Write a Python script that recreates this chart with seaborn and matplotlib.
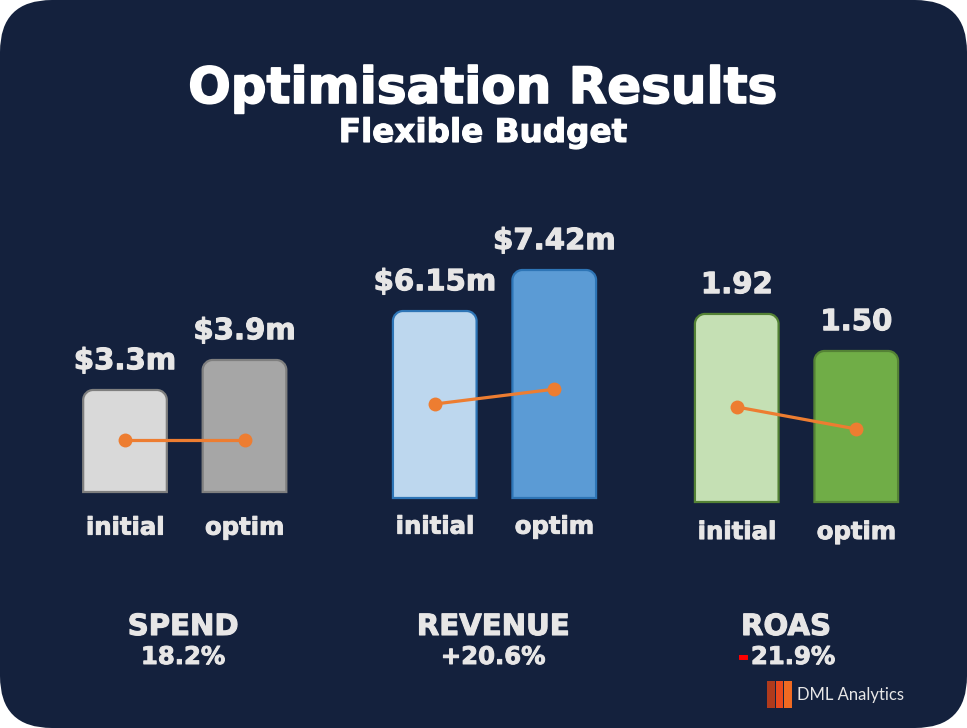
import matplotlib
matplotlib.use("Agg")
import matplotlib.pyplot as plt
import matplotlib.patheffects as pe
import seaborn as sns
from matplotlib.patches import FancyBboxPatch, PathPatch, Rectangle
from matplotlib.path import Path

# data
groups = ["SPEND", "REVENUE", "ROAS"]
stages = ["initial", "optim"]
spend_values = [3.3, 3.9]
revenue_values = [6.15, 7.42]
roas_values = [1.92, 1.50]
spend_labels = ["$3.3m", "$3.9m"]
revenue_labels = ["$6.15m", "$7.42m"]
roas_labels = ["1.92", "1.50"]
spend_line = [2.30, 2.30]
revenue_line = [3.27, 3.73]
roas_line = [0.865, 0.615]
change_labels = ["18.2%", "+20.6%", "-21.9%"]

# styling / layout
NAVY = "#14213d"
TXT = "#e7e6e6"
ORANGE = "#ed7d31"
fills = [["#d9d9d9", "#a6a6a6"], ["#bdd7ee", "#5b9bd5"], ["#c5e0b4", "#70ad47"]]
edges = ["#7f7f7f", "#2e75b6", "#548235"]
W, H = 967, 728
# (left px, bottom px, ylim) for each group axis, 239 px wide, 300 px tall
ax_layout = [(65.25, 492, (1.26, 7.26)), (375, 498, (0.36, 9.65)), (677, 502, (-0.213, 3.19))]
tick_pads = [17, 12, 13]
label_x = [183, 493, 786]


def heavy(color, lw=0.7):
    return [pe.withStroke(linewidth=lw, foreground=color)]


sns.set_theme(style="white")
plt.rcParams["font.family"] = ["DejaVu Sans"]

fig = plt.figure(figsize=(W / 100, H / 100), dpi=100)
fig.patch.set_facecolor("white")

bg = fig.add_axes([0, 0, 1, 1], zorder=0)
bg.set_xlim(0, W)
bg.set_ylim(H, 0)
bg.axis("off")
bg.add_patch(FancyBboxPatch((0, 0), W, H, boxstyle="round,pad=0,rounding_size=52",
                            facecolor=NAVY, edgecolor="none"))

bg.text(483, 103, "Optimisation Results", ha="center", va="baseline",
        fontsize=36, fontweight="bold", color="white", path_effects=heavy("white", 1.2))
bg.text(483, 142, "Flexible Budget", ha="center", va="baseline",
        fontsize=23.5, fontweight="bold", color="white", path_effects=heavy("white", 0.8))


def rounded_top(x0, x1, lo, top, rx, ry):
    k = 0.5523
    verts = [(x0, lo), (x0, top - ry),
             (x0, top - ry + k * ry), (x0 + rx - k * rx, top), (x0 + rx, top),
             (x1 - rx, top),
             (x1 - rx + k * rx, top), (x1, top - ry + k * ry), (x1, top - ry),
             (x1, lo), (x0, lo)]
    codes = [Path.MOVETO, Path.LINETO,
             Path.CURVE4, Path.CURVE4, Path.CURVE4,
             Path.LINETO,
             Path.CURVE4, Path.CURVE4, Path.CURVE4,
             Path.LINETO, Path.CLOSEPOLY]
    return Path(verts, codes)


all_values = [spend_values, revenue_values, roas_values]
all_labels = [spend_labels, revenue_labels, roas_labels]
all_lines = [spend_line, revenue_line, roas_line]

for g in range(3):
    left, bottom, ylim = ax_layout[g]
    ax = fig.add_axes([left / W, 1 - bottom / H, 239 / W, 300 / H], zorder=2)
    ax.set_facecolor("none")
    sns.barplot(x=stages, y=all_values[g], hue=stages, palette=fills[g], width=0.7,
                saturation=1, legend=False, ax=ax)
    ax.set_xlim(-0.5, 1.5)
    ax.set_ylim(*ylim)
    rx = 10 / 119.5
    ry = 10 * (ylim[1] - ylim[0]) / 300
    bars = sorted(ax.patches, key=lambda p: p.get_x())
    for i, p in enumerate(bars):
        x0, w, top = p.get_x(), p.get_width(), p.get_height()
        p.remove()
        ax.add_patch(PathPatch(rounded_top(x0, x0 + w, ylim[0], top, rx, ry),
                               facecolor=fills[g][i], edgecolor=edges[g], lw=1.6,
                               clip_on=False, zorder=2))
        ax.annotate(all_labels[g][i], (x0 + w / 2, top), xytext=(0, 15),
                    textcoords="offset points", ha="center", va="baseline",
                    fontsize=21, fontweight="bold", color=TXT, annotation_clip=False,
                    path_effects=heavy(TXT, 0.8))
    sns.lineplot(x=[0, 1], y=all_lines[g], color=ORANGE, linewidth=2.3, marker="o",
                 markersize=10, markeredgewidth=0, ax=ax, zorder=3)
    ax.set_xticks([0, 1])
    ax.set_xticklabels(stages, fontsize=17.5, fontweight="bold", color=TXT)
    for t in ax.get_xticklabels():
        t.set_path_effects(heavy(TXT, 0.7))
    ax.tick_params(axis="x", length=0, pad=tick_pads[g])
    ax.set_yticks([])
    ax.set_xlabel("")
    ax.set_ylabel("")
    for s in ax.spines.values():
        s.set_visible(False)

    bg.text(label_x[g], 635, groups[g], ha="center", va="baseline",
            fontsize=21, fontweight="bold", color=TXT, path_effects=heavy(TXT, 0.8))
    ch = change_labels[g]
    if ch.startswith("-"):
        bg.text(label_x[g] + 7, 664, ch[1:], ha="center", va="baseline",
                fontsize=17.5, fontweight="bold", color=TXT, path_effects=heavy(TXT))
        bg.text(label_x[g] - 38, 664, "-", ha="right", va="baseline",
                fontsize=17.5, fontweight="bold", color="#ff0000",
                path_effects=heavy("#ff0000"))
    else:
        bg.text(label_x[g], 664, ch, ha="center", va="baseline",
                fontsize=17.5, fontweight="bold", color=TXT, path_effects=heavy(TXT))

# logo
for x, c in zip([767, 775.5, 784], ["#b03a1c", "#e8491d", "#f06a22"]):
    bg.add_patch(Rectangle((x, 681), 7.5, 27, facecolor=c, edgecolor="none"))
bg.text(797, 700, "DML Analytics", ha="left", va="baseline", fontsize=12,
        color=TXT, family=["Lato", "DejaVu Sans"])

fig.savefig("out.png", dpi=100, facecolor=fig.get_facecolor())
